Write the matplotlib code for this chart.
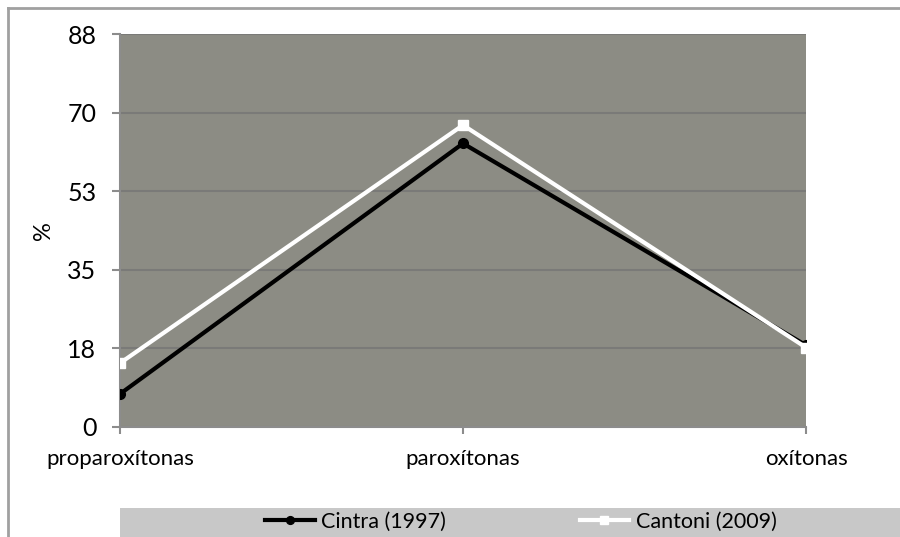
import matplotlib.pyplot as plt
from matplotlib.patches import Rectangle
from matplotlib.lines import Line2D

plt.rcParams['font.family'] = ['Lato', 'DejaVu Sans']

categorias = ['proparoxítonas', 'paroxítonas', 'oxítonas']
cintra = [7.4, 63.5, 18.3]
cantoni = [14.3, 67.6, 17.8]
yticks = [0, 17.6, 35.2, 52.8, 70.4, 88]
ytick_labels = ['0', '18', '35', '53', '70', '88']

fig = plt.figure(figsize=(9, 5.37), dpi=100)
ax = fig.add_axes([120 / 900, 1 - 427 / 537, 686 / 900, 393 / 537])
ax.set_facecolor('#8c8c84')

x = list(range(len(categorias)))
ax.plot(x, cintra, color='black', lw=3, marker='o', ms=7, zorder=3,
        label='Cintra (1997)')
ax.plot(x, cantoni, color='white', lw=3, marker='s', ms=7, zorder=4,
        label='Cantoni (2009)')

ax.set_xlim(0, 2)
ax.set_ylim(0, 88)
ax.set_yticks(yticks)
ax.set_yticklabels(ytick_labels, fontsize=18)
ax.set_xticks(x)
ax.set_xticklabels(categorias, fontsize=16)
ax.yaxis.grid(True, color='#7a7a78', lw=1.5)
ax.set_axisbelow(True)
ax.tick_params(axis='y', length=6, color='#8c8c8c', width=1.5, pad=11)
ax.tick_params(axis='x', length=5, color='#8c8c8c', width=1.5, pad=11)
for s in ['top', 'right']:
    ax.spines[s].set_visible(False)
for s in ['left', 'bottom']:
    ax.spines[s].set_color('#8c8c8c')
    ax.spines[s].set_linewidth(1.5)
ax.set_ylabel('%', fontsize=17)
ax.yaxis.set_label_coords(-66 / 686, 0.5)

# outer frame (left and top edges)
fig.add_artist(Line2D([8 / 900, 8 / 900], [0, 1 - 8 / 537], color='#a0a0a0', lw=2))
fig.add_artist(Line2D([8 / 900, 1], [1 - 8 / 537, 1 - 8 / 537], color='#a0a0a0', lw=2))

# legend band
fig.add_artist(Rectangle((120 / 900, 0), 780 / 900, 29 / 537,
                         transform=fig.transFigure, facecolor='#c8c8c8',
                         edgecolor='none', zorder=0))
fig.legend(loc='center', bbox_to_anchor=(521 / 900, 1 - 522 / 537), ncol=2,
           frameon=False, fontsize=15.5, handlelength=2.3, columnspacing=6.2,
           handletextpad=0.3, markerscale=0.8)

fig.savefig('out.png', dpi=100)
